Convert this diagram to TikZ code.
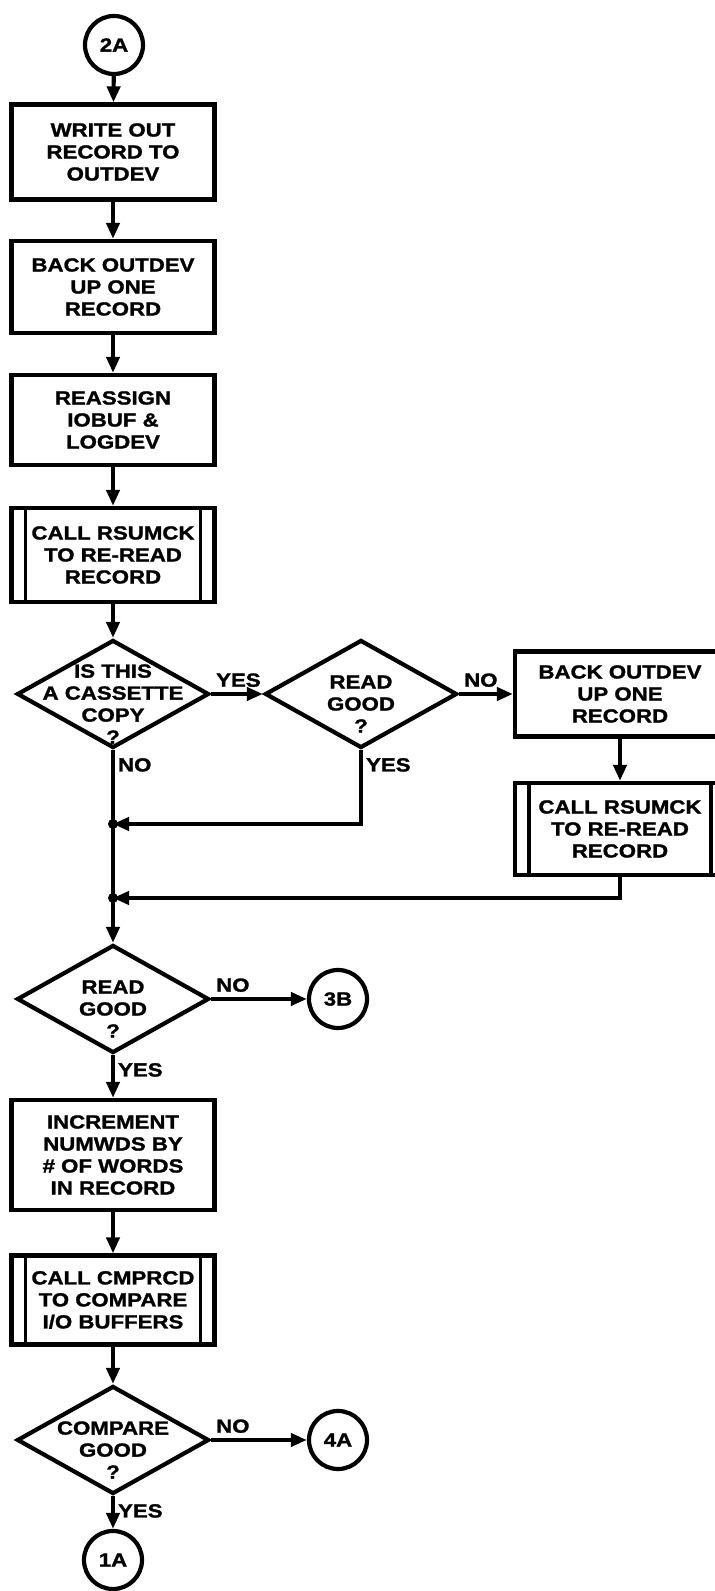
\documentclass[tikz,border=0pt]{standalone}
\usepackage{fontspec}
\setmainfont{Liberation Sans}[FakeStretch=1.17, BoldFeatures={FakeBold=1.4}]
\usepackage{tikz}
\usetikzlibrary{shapes.geometric, arrows.meta}
\newcommand{\flowfont}{\fontsize{19}{22}\selectfont\bfseries}
\tikzstyle{line} = [draw, line width=4.2pt, ->]

\begin{document}
\begin{tikzpicture}[x=1pt, y=1pt, >={Triangle[length=16pt,width=13pt]},   %Pfeilspitzen
		box/.style={draw, line width=4.2pt, minimum width=203pt, align=center, inner sep=2pt, font=\flowfont},
		subbox/.style={box, path picture={
			\draw[line width=3.5pt] ([xshift=14pt]path picture bounding box.north west) -- ([xshift=14pt]path picture bounding box.south west);
			\draw[line width=3.5pt] ([xshift=-14pt]path picture bounding box.north east) -- ([xshift=-14pt]path picture bounding box.south east);}},
		dec/.style={draw, diamond, line width=4.2pt, minimum width=192pt, minimum height=108pt, inner sep=0pt},
		dectext/.style={align=center, font=\flowfont, yshift=-10pt},
		conn/.style={draw, circle, line width=4.2pt, minimum size=58pt, inner sep=0pt, font=\flowfont},
		lbl/.style={font=\flowfont, inner sep=3pt}]
	\useasboundingbox (0,0) rectangle (715,1591);
	\clip (0,0) rectangle (715,1591);
	%Hauptspalte
	\node[conn] (c2A) at (114,1546) {2A};
	\node[box, minimum height=95pt] (write) at (113,1439) {WRITE OUT\\RECORD TO\\OUTDEV};
	\node[box, minimum height=92pt] (back) at (113,1304) {BACK OUTDEV\\UP ONE\\RECORD};
	\node[box, minimum height=90pt] (reassign) at (113,1171) {REASSIGN\\IOBUF \&\\LOGDEV};
	\node[subbox, minimum height=94pt] (rsumck) at (113,1036) {CALL RSUMCK\\TO RE-READ\\RECORD};
	\node[dec, label={[dectext]center:{IS THIS\\A CASSETTE\\COPY\\?}}] (cass) at (113,897) {};
	\node[dec, label={[dectext]center:{READ\\GOOD\\?}}] (good1) at (361,897) {};
	%rechter Zweig
	\node[box, minimum width=210pt, minimum height=85pt] (backR) at (620,897) {BACK OUTDEV\\UP ONE\\RECORD};
	\node[subbox, minimum width=210pt, minimum height=92pt] (rsumckR) at (620,762) {CALL RSUMCK\\TO RE-READ\\RECORD};
	\coordinate (m1) at (113,767);
	\coordinate (m2) at (113,693);
	\node[dec, label={[dectext]center:{READ\\GOOD\\?}}] (good2) at (113,592) {};
	\node[conn] (c3B) at (338,592) {3B};
	\node[box, minimum height=110pt] (incr) at (113,436) {INCREMENT\\NUMWDS BY\\\# OF WORDS\\IN RECORD};
	\node[subbox, minimum height=89pt] (cmprcd) at (113,291) {CALL CMPRCD\\TO COMPARE\\I/O BUFFERS};
	\node[dec, label={[dectext]center:{COMPARE\\GOOD\\?}}] (cmp) at (113,151) {};
	\node[conn] (c4A) at (338,151) {4A};
	\node[conn] (c1A) at (113,31) {1A};
	%Verbindungen
	\path[line] (c2A) -- (write);
	\path[line] (write) -- (back);
	\path[line] (back) -- (reassign);
	\path[line] (reassign) -- (rsumck);
	\path[line] (rsumck) -- (cass);
	\path[line] (cass.east) -- node[lbl, pos=0, anchor=south west, yshift=2pt] {YES} (good1.west);
	\path[line] (good1.east) -- node[lbl, pos=0, anchor=south west, yshift=2pt] {NO} (backR.west);
	\path[line] (backR) -- (rsumckR);
	\path[line] (cass.south) -- node[lbl, pos=0, anchor=north west, yshift=-3pt] {NO} (good2.north);
	\path[line] (good1.south) -- node[lbl, pos=0, anchor=north west, yshift=-3pt] {YES} (good1.south |- m1) -- (m1);
	\path[line] (rsumckR.south) -- (rsumckR.south |- m2) -- (m2);
	\fill (m1) circle (5pt);
	\fill (m2) circle (5pt);
	\path[line] (good2.east) -- node[lbl, pos=0, anchor=south west, yshift=2pt] {NO} (c3B);
	\path[line] (good2.south) -- node[lbl, pos=0, anchor=north west, yshift=-3pt] {YES} (incr);
	\path[line] (incr) -- (cmprcd);
	\path[line] (cmprcd) -- (cmp);
	\path[line] (cmp.east) -- node[lbl, pos=0, anchor=south west, yshift=2pt] {NO} (c4A);
	\path[line] (cmp.south) -- node[lbl, pos=0, anchor=north west, yshift=-3pt] {YES} (c1A);
\end{tikzpicture}
\end{document}
